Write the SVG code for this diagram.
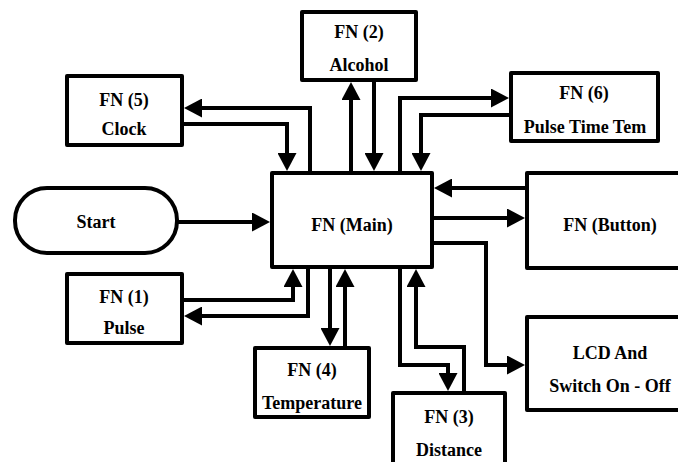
<svg xmlns="http://www.w3.org/2000/svg" width="678" height="462" viewBox="0 0 678 462">
<style>
.box{fill:#fff;stroke:#000;stroke-width:4;stroke-linejoin:round}
.c{fill:none;stroke:#000;stroke-width:4;stroke-linejoin:miter}
</style>
<defs>
<marker id="ah" markerUnits="userSpaceOnUse" markerWidth="18" markerHeight="19" refX="8" refY="9.5" orient="auto" viewBox="0 0 18 19">
<path d="M0,0 L18,9.5 L0,19 z" fill="#000"/>
</marker>
</defs>
<rect width="678" height="462" fill="#fff"/>
<g id="connectors">
<path class="c" marker-end="url(#ah)" d="M177,222 H260"/>
<path class="c" marker-end="url(#ah)" d="M310,173 V108 H194"/>
<path class="c" marker-end="url(#ah)" d="M182,124 H287 V161"/>
<path class="c" marker-end="url(#ah)" d="M351,173 V92"/>
<path class="c" marker-end="url(#ah)" d="M374,80 V161"/>
<path class="c" marker-end="url(#ah)" d="M400,173 V98 H499"/>
<path class="c" marker-end="url(#ah)" d="M511,115 H421 V161"/>
<path class="c" marker-end="url(#ah)" d="M527,188 H444"/>
<path class="c" marker-end="url(#ah)" d="M432,218 H515"/>
<path class="c" marker-end="url(#ah)" d="M432,243 H486 V365 H515"/>
<path class="c" marker-end="url(#ah)" d="M182,300 H293 V279"/>
<path class="c" marker-end="url(#ah)" d="M308,267 V316 H194"/>
<path class="c" marker-end="url(#ah)" d="M330,267 V336"/>
<path class="c" marker-end="url(#ah)" d="M345,348 V279"/>
<path class="c" marker-end="url(#ah)" d="M400,267 V365 H448 V381"/>
<path class="c" marker-end="url(#ah)" d="M464,393 V347 H416 V279"/>
</g>
<g id="start">
<rect class="box" x="15" y="188" width="162" height="65" rx="32" ry="32"/>
<text x="96" y="228" font-family="Liberation Serif" font-weight="bold" font-size="18" text-anchor="middle">Start</text>
</g>
<g id="main">
<rect class="box" x="272" y="173" width="160" height="94"/>
<text x="352" y="231" font-family="Liberation Serif" font-weight="bold" font-size="18" text-anchor="middle">FN (Main)</text>
</g>
<g id="fn5">
<rect class="box" x="67" y="76" width="115" height="69"/>
<text x="124" y="106" font-family="Liberation Serif" font-weight="bold" font-size="18" text-anchor="middle">FN (5)</text>
<text x="124" y="135" font-family="Liberation Serif" font-weight="bold" font-size="18" text-anchor="middle">Clock</text>
</g>
<g id="fn2">
<rect class="box" x="302" y="12" width="114" height="68"/>
<text x="359" y="38" font-family="Liberation Serif" font-weight="bold" font-size="18" text-anchor="middle">FN (2)</text>
<text x="359" y="71" font-family="Liberation Serif" font-weight="bold" font-size="18" text-anchor="middle">Alcohol</text>
</g>
<g id="fn6">
<rect class="box" x="511" y="73" width="147" height="68"/>
<text x="584" y="99" font-family="Liberation Serif" font-weight="bold" font-size="18" text-anchor="middle">FN (6)</text>
<text x="585" y="133" font-family="Liberation Serif" font-weight="bold" font-size="18" text-anchor="middle">Pulse Time Tem</text>
</g>
<g id="button">
<rect class="box" x="527" y="173" width="200" height="95"/>
<text x="610" y="231" font-family="Liberation Serif" font-weight="bold" font-size="18" text-anchor="middle">FN (Button)</text>
</g>
<g id="lcd">
<rect class="box" x="527" y="317" width="200" height="93"/>
<text x="610" y="359" font-family="Liberation Serif" font-weight="bold" font-size="18" text-anchor="middle">LCD And</text>
<text x="610" y="392" font-family="Liberation Serif" font-weight="bold" font-size="18" text-anchor="middle">Switch On - Off</text>
</g>
<g id="fn1">
<rect class="box" x="67" y="274" width="115" height="69"/>
<text x="124" y="303" font-family="Liberation Serif" font-weight="bold" font-size="18" text-anchor="middle">FN (1)</text>
<text x="124" y="334" font-family="Liberation Serif" font-weight="bold" font-size="18" text-anchor="middle">Pulse</text>
</g>
<g id="fn4">
<rect class="box" x="255" y="348" width="114" height="69"/>
<text x="312" y="376" font-family="Liberation Serif" font-weight="bold" font-size="18" text-anchor="middle">FN (4)</text>
<text x="312" y="409" font-family="Liberation Serif" font-weight="bold" font-size="18" text-anchor="middle">Temperature</text>
</g>
<g id="fn3">
<rect class="box" x="393" y="393" width="112" height="90"/>
<text x="449" y="423" font-family="Liberation Serif" font-weight="bold" font-size="18" text-anchor="middle">FN (3)</text>
<text x="449" y="456" font-family="Liberation Serif" font-weight="bold" font-size="18" text-anchor="middle">Distance</text>
</g>
</svg>
